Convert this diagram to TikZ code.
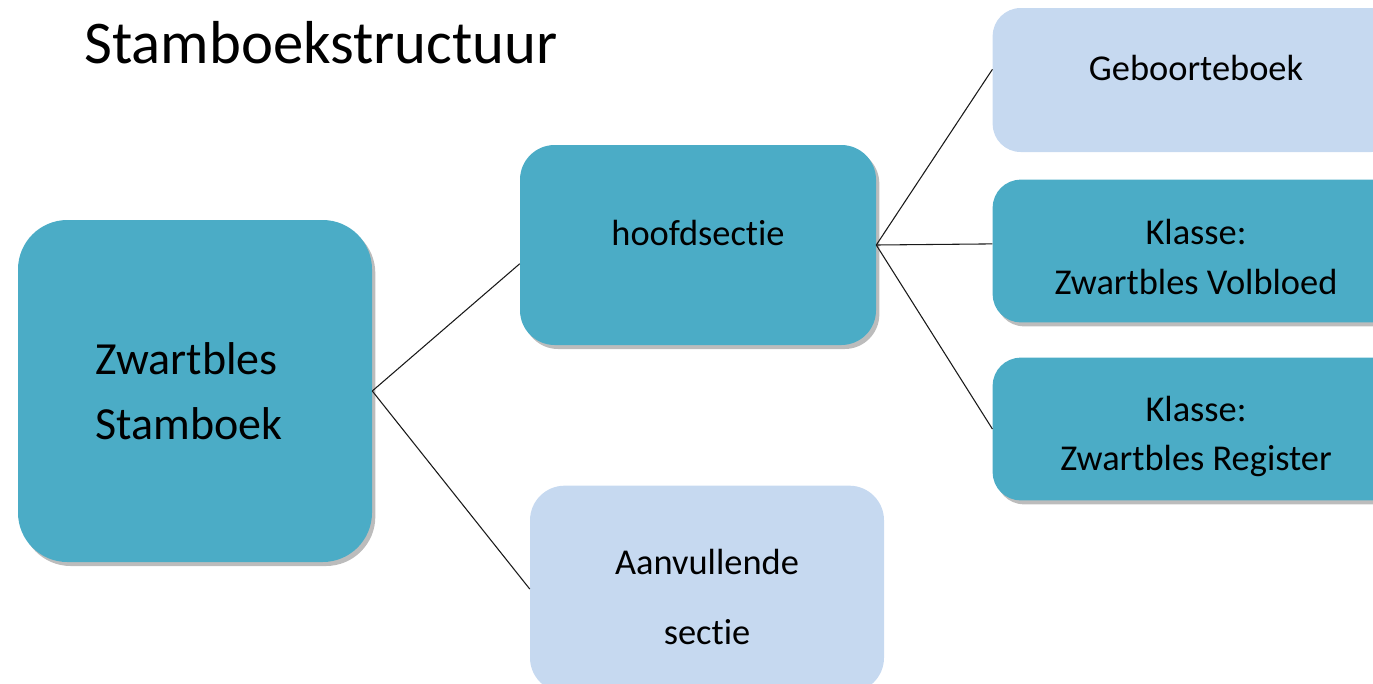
\documentclass[tikz,border=0pt]{standalone}
\usepackage{fontspec}
\setmainfont{Carlito}[Ligatures=CommonOff]
\usetikzlibrary{shadows}
\definecolor{boxteal}{RGB}{75,172,198}
\definecolor{boxlight}{RGB}{198,217,240}
\tikzset{
  darkbox/.style={fill=boxteal, inner sep=0pt, align=center,
    drop shadow={shadow xshift=2.5pt, shadow yshift=-3pt, fill=black!75, opacity=0.35}},
  lightbox/.style={fill=boxlight, inner sep=0pt, align=center},
  boxtext/.style={font=\fontsize{27.3}{37}\selectfont},
  branch/.style={draw=black!90, line width=0.8pt}
}
\begin{document}
\begin{tikzpicture}[x=0.75pt,y=-0.75pt]
\useasboundingbox (0,0) rectangle (1373,683);
\clip (0,0) rectangle (1373,683);

% Title
\node (title) [anchor=base west, inner sep=0pt, font=\fontsize{45.5}{54}\selectfont] at (84,63) {Stamboekstructuur};

%Shape: root box
\node (root) [darkbox, minimum width=265.5pt, minimum height=256.5pt, rounded corners=37pt, align=left, font=\fontsize{34.5}{49}\selectfont] at (195,391) {Zwartbles\\Stamboek\rule{9pt}{0pt}};
%Shape: hoofdsectie
\node (hoofd) [darkbox, boxtext, minimum width=267pt, minimum height=150pt, rounded corners=26pt, text height=20pt, text depth=20pt] at (698,245) {hoofdsectie};
%Shape: aanvullende sectie
\node (aanv) [lightbox, boxtext, minimum width=265.5pt, minimum height=155pt, rounded corners=26pt] at (707,589) {\rule{0pt}{31pt}Aanvullende\\[15pt]sectie};
%Shape: geboorteboek
\node (gebo) [lightbox, boxtext, minimum width=305pt, minimum height=108pt, rounded corners=21pt, text height=20pt, text depth=20pt] at (1196,80) {Geboorteboek};
%Shape: volbloed
\node (volb) [darkbox, boxtext, minimum width=305pt, minimum height=107pt, rounded corners=21pt] at (1196,251) {\rule{0pt}{28pt}Klasse:\\Zwartbles Volbloed};
%Shape: register
\node (regi) [darkbox, boxtext, minimum width=305pt, minimum height=107pt, rounded corners=21pt] at (1196,429) {\rule{0pt}{30pt}Klasse:\\Zwartbles Register};

%Straight Lines
\draw [branch] (root.east) -- (hoofd.186);
\draw [branch] (root.east) -- (aanv.west);
\draw [branch] (hoofd.east) -- (gebo.177);
\draw [branch] (hoofd.east) -- (volb.178);
\draw [branch] (hoofd.east) -- (regi.west);

\end{tikzpicture}
\end{document}
